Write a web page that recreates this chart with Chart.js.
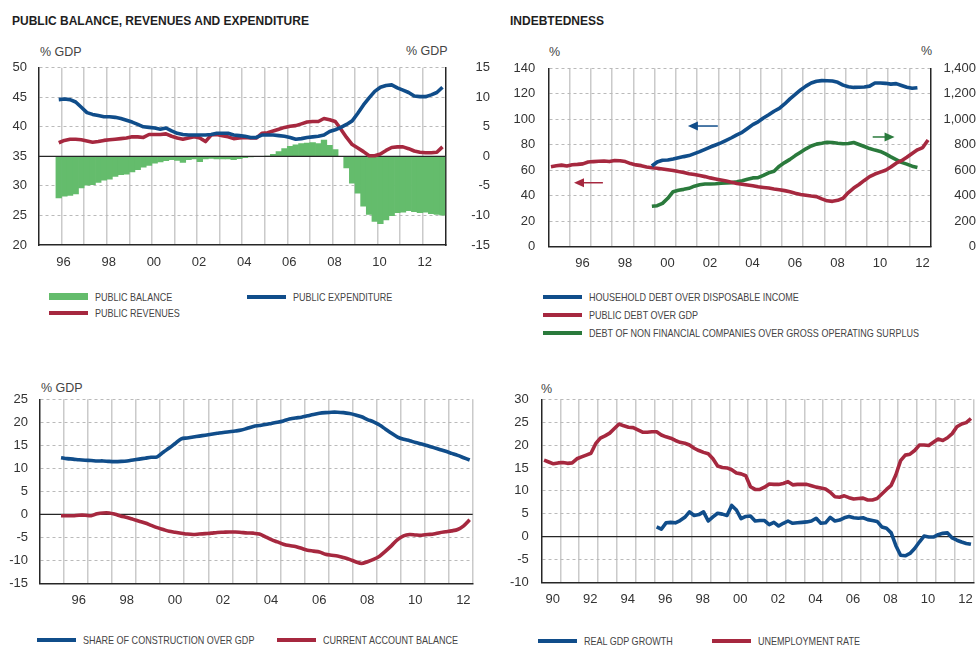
<!DOCTYPE html>
<html>
<head>
<meta charset="utf-8">
<script src="https://cdn.jsdelivr.net/npm/chart.js@4.4.0/dist/chart.umd.min.js"></script>
<style>
  body { margin: 0; width: 976px; height: 646px; background: #fff; position: relative; overflow: hidden;
         font-family: 'Liberation Sans', Arial, sans-serif; }
  canvas { position: absolute; }
  .title { position: absolute; font-weight: bold; font-size: 12px; line-height: 14px; color: #1e1e1e; white-space: nowrap; }
  .unit { position: absolute; font-size: 12.5px; line-height: 14px; color: #444; white-space: nowrap; }
  .leg { position: absolute; font-size: 11px; line-height: 14px; color: #444; white-space: nowrap;
         transform: scaleX(0.82); transform-origin: 0 0; }
  .sw { position: absolute; width: 39px; }
</style>
</head>
<body>
<div class="title" style="left:12px;top:14px;">PUBLIC BALANCE, REVENUES AND EXPENDITURE</div>
<div class="title" style="left:510px;top:14px;">INDEBTEDNESS</div>
<div class="unit" style="left:40px;top:45px;">% GDP</div>
<div class="unit" style="left:406px;top:44px;">% GDP</div>
<div class="unit" style="left:549px;top:45px;">%</div>
<div class="unit" style="left:921px;top:44px;">%</div>
<div class="unit" style="left:41px;top:381px;">% GDP</div>
<div class="unit" style="left:541px;top:382px;">%</div>

<canvas id="c1" width="490" height="220" style="left:0;top:55px;"></canvas>
<canvas id="c2" width="486" height="220" style="left:490px;top:55px;"></canvas>
<canvas id="c3" width="490" height="234" style="left:0;top:388px;"></canvas>
<canvas id="c4" width="486" height="234" style="left:490px;top:388px;"></canvas>

<script>
// ---- data (quarterly) ----
// panel 1: Q4 1995 .. Q4 2012
const fiscalStart = 1995.875;
const publicBalance = [
  -7.1, -6.8, -6.65, -6.4, -5.4, -4.95, -4.85, -4.45, -4.1, -3.9,
  -3.45, -3.15, -3.05, -2.7, -2.3, -1.9, -1.6, -1.2, -1.0, -0.8,
  -0.6, -0.75, -1.1, -0.6, -0.5, -0.95, -0.5, -0.4, -0.5, -0.5,
  -0.5, -0.6, -0.45, -0.3, -0.15, -0.1, -0.05, 0.1, 0.4, 0.85,
  1.35, 1.75, 2.0, 2.2, 2.3, 2.4, 2.2, 2.8, 1.9, 1.2,
  -0.1, -2.0, -4.6, -6.3, -8.5, -9.9, -11.05, -11.45, -10.8, -10.1,
  -9.6, -9.5, -9.25, -9.4, -9.6, -9.5, -9.75, -9.9, -10.0
];
const publicExpenditure = [
  44.6, 44.7, 44.6, 44.2, 43.3, 42.4, 42.1, 41.9, 41.7, 41.7,
  41.6, 41.4, 41.1, 40.8, 40.4, 40.0, 39.9, 39.8, 39.6, 39.8,
  39.3, 38.9, 38.7, 38.6, 38.6, 38.6, 38.6, 38.7, 38.9, 38.9,
  38.9, 38.6, 38.5, 38.4, 38.2, 38.2, 38.6, 38.6, 38.6, 38.5,
  38.4, 38.2, 37.9, 38.0, 38.2, 38.3, 38.4, 38.6, 39.2, 39.5,
  39.9, 40.4, 41.0, 42.3, 43.7, 44.9, 46.0, 46.7, 47.0, 47.1,
  46.6, 46.2, 45.8, 45.2, 45.1, 45.1, 45.4, 45.8, 46.7
];
const publicRevenues = [
  37.3, 37.7, 37.9, 37.9, 37.8, 37.6, 37.4, 37.5, 37.7, 37.8,
  37.9, 38.0, 38.1, 38.3, 38.3, 38.2, 38.7, 38.7, 38.7, 38.8,
  38.4, 38.1, 37.9, 38.1, 38.3, 38.1, 37.5, 38.6, 38.7, 38.5,
  38.3, 38.0, 38.1, 38.2, 38.1, 38.1, 38.9, 39.0, 39.3, 39.6,
  39.9, 40.1, 40.2, 40.5, 40.8, 40.9, 40.9, 41.4, 41.2, 40.9,
  39.6, 38.2, 37.0, 36.4, 35.8, 35.1, 35.1, 35.4, 36.0, 36.5,
  36.6, 36.6, 36.3, 35.9, 35.7, 35.6, 35.6, 35.7, 36.6
];

// panel 2: public debt Q1 1995 .. Q4 2012, private series Q4 1999 .. Q2 2012
const publicDebtStart = 1995.125;
const publicDebt = [
  62.8, 63.5, 64.0, 63.4, 64.3, 64.6, 65.0, 66.5, 66.8, 67.0,
  67.2, 66.8, 67.6, 67.5, 66.8, 65.2, 64.2, 63.6, 62.6, 62.0,
  61.6, 61.0, 60.4, 59.8, 59.0, 58.3, 57.3, 56.6, 55.8, 55.0,
  54.0, 53.2, 52.4, 51.5, 50.6, 49.6, 49.0, 48.4, 47.8, 47.0,
  46.5, 46.0, 45.3, 44.7, 44.0, 43.2, 42.0, 41.0, 40.4, 39.8,
  39.3, 37.5, 36.0, 35.6, 36.4, 38.0, 42.5, 46.0, 48.8, 52.0,
  55.0, 57.0, 58.5, 60.0, 62.5, 65.5, 67.5, 70.2, 73.2, 76.0,
  77.8, 83.7
];
const privateStart = 1999.875;
const householdDebt = [
  63.3, 66.5, 67.8, 68.0, 68.8, 69.8, 70.7, 71.5, 73.0, 74.6,
  76.4, 78.2, 79.8, 81.5, 83.5, 85.5, 87.8, 89.8, 92.8, 95.8,
  98.0, 101.0, 103.5, 106.3, 108.5, 112.0, 116.0, 119.5, 123.0, 126.0,
  128.5, 129.8, 130.3, 130.2, 130.0, 129.0, 126.8, 125.5, 125.0, 125.1,
  125.3, 126.0, 128.5, 128.5, 128.2, 127.6, 128.0, 126.5, 125.1, 124.3,
  124.8
];
const companyDebt = [
  318, 322, 340, 380, 432, 443, 450, 458, 475, 486,
  492, 492, 494, 498, 500, 503, 510, 518, 530, 540,
  542, 560, 580, 592, 632, 660, 685, 715, 742, 768,
  790, 805, 812, 820, 818, 812, 808, 810, 818, 802,
  786, 770, 758, 748, 728, 705, 684, 662, 648, 632,
  622
];

// panel 3: Q4 1995 .. Q4 2012
const externalStart = 1995.875;
const constructionShare = [
  12.3, 12.1, 12.0, 11.85, 11.75, 11.7, 11.6, 11.6, 11.5, 11.45,
  11.5, 11.6, 11.8, 12.0, 12.2, 12.4, 12.5, 13.5, 14.4, 15.4,
  16.4, 16.6, 16.8, 17.0, 17.2, 17.4, 17.6, 17.8, 17.95, 18.1,
  18.3, 18.7, 19.1, 19.3, 19.5, 19.75, 20.0, 20.3, 20.7, 20.95,
  21.1, 21.4, 21.7, 21.95, 22.1, 22.2, 22.2, 22.1, 21.9, 21.6,
  21.2, 20.6, 20.1, 19.4, 18.5, 17.6, 16.8, 16.3, 16.0, 15.6,
  15.3, 14.9, 14.5, 14.1, 13.7, 13.25, 12.8, 12.3, 11.8
];
const currentAccount = [
  -0.3, -0.3, -0.3, -0.2, -0.2, -0.3, 0.1, 0.3, 0.3, 0.0,
  -0.4, -0.7, -1.1, -1.5, -1.9, -2.4, -2.9, -3.3, -3.7, -3.9,
  -4.1, -4.3, -4.4, -4.3, -4.2, -4.1, -3.95, -3.9, -3.85, -3.85,
  -3.95, -4.05, -4.1, -4.3, -4.9, -5.5, -6.0, -6.5, -6.8, -7.0,
  -7.4, -7.8, -8.0, -8.2, -8.7, -8.9, -9.05, -9.4, -9.8, -10.3,
  -10.7, -10.3, -9.8, -9.1, -8.0, -6.8, -5.5, -4.7, -4.4, -4.5,
  -4.55, -4.4, -4.3, -4.0, -3.8, -3.6, -3.3, -2.5, -1.2
];

// panel 4: unemployment Q1 1990 .. Q4 2012, GDP growth Q1 1996 .. Q4 2012
const unemploymentStart = 1990.125;
const unemploymentRate = [
  16.7, 16.3, 15.9, 16.1, 16.2, 16.0, 16.1, 17.0, 17.4, 17.8,
  18.2, 20.3, 21.5, 22.0, 22.6, 23.6, 24.6, 24.2, 23.9, 23.8,
  23.3, 22.8, 22.8, 22.9, 22.9, 22.2, 21.8, 21.5, 21.0, 20.6,
  20.4, 20.0, 19.3, 18.8, 18.4, 18.1, 17.0, 15.4, 15.1, 15.0,
  14.6, 13.9, 13.7, 13.3, 10.9, 10.3, 10.3, 10.8, 11.5, 11.4,
  11.4, 11.6, 12.0, 11.3, 11.4, 11.4, 11.4, 11.1, 10.8, 10.6,
  10.4, 9.7, 8.7, 8.6, 8.9, 8.5, 8.2, 8.3, 8.4, 8.0,
  8.0, 8.3, 9.3, 10.3, 11.2, 13.5, 16.6, 17.8, 18.0, 18.8,
  20.0, 20.0, 19.9, 20.6, 21.3, 21.0, 21.6, 22.5, 24.0, 24.6,
  24.9, 25.8
];
const gdpStart = 1996.125;
const realGdpGrowth = [
  2.1, 1.6, 3.0, 3.1, 3.0, 3.5, 4.2, 5.4, 4.6, 4.8,
  5.4, 3.4, 4.3, 5.1, 4.9, 4.6, 6.8, 5.8, 3.9, 4.4,
  4.5, 3.4, 3.5, 3.5, 2.6, 3.1, 2.3, 2.9, 3.4, 2.9,
  3.0, 3.1, 3.2, 3.4, 4.0, 2.9, 3.0, 4.2, 3.4, 3.6,
  4.1, 4.4, 4.1, 4.0, 4.1, 3.7, 3.5, 3.3, 2.1, 1.8,
  0.8, -2.0, -4.1, -4.2, -3.7, -2.6, -1.2, 0.1, -0.1, -0.1,
  0.4, 0.7, 0.8, -0.3, -0.8, -1.2, -1.5, -1.7
];

// ---- styling ----
const BLUE = '#104d8a';
const RED = '#a6283f';
const GREEN_BAR = '#64bc6c';
const GREEN = '#2a7a3c';
const GRID_V = '#cacaca';
const GRID_H = '#bababa';
const AXIS = '#262626';
const TXT = '#333';
const tickFont = { family: "'Liberation Sans', Arial, sans-serif", size: 13 };
const CLEAR = 'rgba(0,0,0,0)';

const quarterly = (start, vals) => vals.map((v, i) => ({ x: start + i * 0.25, y: v }));

function lineSet(label, color, start, vals, extra) {
  return Object.assign({
    type: 'line', label, data: quarterly(start, vals), borderColor: color, backgroundColor: color,
    borderWidth: 3.6, pointRadius: 0, tension: 0, borderJoinStyle: 'round', order: 1, yAxisID: 'y'
  }, extra || {});
}

function xScale(min, max, height, labelOffset, padding, hideMax) {
  return {
    type: 'linear', min, max, offset: false,
    afterFit: s => { s.height = height; s.paddingLeft = 0; s.paddingRight = 0; },
    grid: {
      color: c => (c.tick && (c.tick.value === min || (hideMax && c.tick.value === max))) ? CLEAR : GRID_V,
      lineWidth: 1.5, drawTicks: false, offset: false
    },
    border: { display: true, color: AXIS, width: 1.5 },
    ticks: {
      stepSize: 1, autoSkip: false, maxRotation: 0, minRotation: 0, padding, labelOffset,
      color: TXT, font: tickFont,
      callback: v => { const y = Math.round(v); return y % 2 === 0 && y < max ? String(y % 100).padStart(2, '0') : ''; }
    }
  };
}

function yScale(position, min, max, stepSize, width, padding, withGrid, fmt) {
  return {
    type: 'linear', position, min, max,
    afterFit: s => { s.width = width; s.paddingTop = 0; s.paddingBottom = 0; },
    grid: withGrid
      ? { color: c => (c.tick && c.tick.value === min) ? CLEAR : GRID_H, lineWidth: 1, drawTicks: false }
      : { display: false, drawTicks: false },
    border: { display: true, color: AXIS, width: 1.5, dash: [3, 3] },
    ticks: {
      stepSize, padding, color: TXT, font: tickFont,
      crossAlign: position === 'right' ? 'far' : 'near',
      callback: fmt || (v => String(v))
    }
  };
}

// black zero line, drawn right after the dataset given by afterIndex (or before all datasets)
const zeroLine = {
  id: 'zeroLine',
  draw(chart, o) {
    const { ctx, chartArea: a } = chart;
    const y = chart.scales[o.axis || 'y'].getPixelForValue(o.value);
    ctx.save();
    ctx.strokeStyle = AXIS;
    ctx.lineWidth = 1.2;
    ctx.beginPath();
    ctx.moveTo(a.left, y);
    ctx.lineTo(a.right, y);
    ctx.stroke();
    ctx.restore();
  },
  beforeDatasetsDraw(chart, args, o) {
    if (o.value !== undefined && o.afterIndex === undefined) this.draw(chart, o);
  },
  afterDatasetDraw(chart, args, o) {
    if (o.value !== undefined && o.afterIndex === args.index) this.draw(chart, o);
  }
};

// small annotation arrows (panel 2)
const arrows = {
  id: 'arrows',
  afterDatasetsDraw(chart, args, o) {
    const { ctx, scales } = chart;
    (o.items || []).forEach(a => {
      const y = scales.y.getPixelForValue(a.y);
      const x1 = scales.x.getPixelForValue(a.from);
      const x2 = scales.x.getPixelForValue(a.to);
      const dir = x2 > x1 ? 1 : -1;
      ctx.save();
      ctx.strokeStyle = a.color;
      ctx.fillStyle = a.color;
      ctx.lineWidth = 1.5;
      ctx.beginPath();
      ctx.moveTo(x1, y);
      ctx.lineTo(x2 - dir * 6, y);
      ctx.stroke();
      ctx.beginPath();
      ctx.moveTo(x2, y);
      ctx.lineTo(x2 - dir * 10, y - 4.5);
      ctx.lineTo(x2 - dir * 10, y + 4.5);
      ctx.closePath();
      ctx.fill();
      ctx.restore();
    });
  }
};

const baseOptions = (scales, plugins, padding) => ({
  responsive: false, animation: false, devicePixelRatio: 1,
  layout: { padding, autoPadding: false },
  plugins: Object.assign({ legend: { display: false }, tooltip: { enabled: false } }, plugins),
  scales
});

// ---- panel 1 ----
new Chart(document.getElementById('c1'), {
  type: 'line',
  data: {
    datasets: [
      {
        type: 'bar', label: 'PUBLIC BALANCE', data: quarterly(fiscalStart, publicBalance),
        backgroundColor: GREEN_BAR, borderWidth: 0, barPercentage: 1.12, categoryPercentage: 1,
        grouped: false, yAxisID: 'y1', order: 3
      },
      lineSet('PUBLIC EXPENDITURE', BLUE, fiscalStart, publicExpenditure),
      lineSet('PUBLIC REVENUES', RED, fiscalStart, publicRevenues)
    ]
  },
  options: baseOptions({
    x: xScale(1995, 2013, 30, 2, 10, true),
    y: yScale('left', 20, 50, 5, 39, 12, true),
    y1: yScale('right', -15, 15, 5, 44.7, 11, false)
  }, { zeroLine: { value: 35, afterIndex: 0 } }, { top: 12.7, left: 0, right: 0, bottom: 0 }),
  plugins: [zeroLine]
});

// ---- panel 2 ----
new Chart(document.getElementById('c2'), {
  type: 'line',
  data: {
    datasets: [
      lineSet('HOUSEHOLD DEBT OVER DISPOSABLE INCOME', BLUE, privateStart, householdDebt),
      lineSet('PUBLIC DEBT OVER GDP', RED, publicDebtStart, publicDebt),
      lineSet('DEBT OF NON FINANCIAL COMPANIES OVER GROSS OPERATING SURPLUS', GREEN, privateStart, companyDebt, { yAxisID: 'y1' })
    ]
  },
  options: baseOptions({
    x: xScale(1995, 2013, 28.3, 13, 9, true),
    y: yScale('left', 0, 140, 20, 58.3, 13, true),
    y1: yScale('right', 0, 1400, 200, 45.3, 12, false, v => v.toLocaleString('en-US'))
  }, {
    arrows: { items: [
      { from: 2002.98, to: 2001.57, y: 94.7, color: BLUE },
      { from: 1997.57, to: 1996.21, y: 50.2, color: RED },
      { from: 2010.27, to: 2011.3, y: 86.1, color: GREEN }
    ] }
  }, { top: 13.3, left: 0, right: 0, bottom: 0 }),
  plugins: [arrows]
});

// ---- panel 3 ----
new Chart(document.getElementById('c3'), {
  type: 'line',
  data: {
    datasets: [
      lineSet('SHARE OF CONSTRUCTION OVER GDP', BLUE, externalStart, constructionShare, { tension: 0.3 }),
      lineSet('CURRENT ACCOUNT BALANCE', RED, externalStart, currentAccount, { tension: 0.3 })
    ]
  },
  options: baseOptions({
    x: xScale(1995, 2013, 38.7, 14.7, 9, false),
    y: yScale('left', -15, 25, 5, 40, 12, true)
  }, { zeroLine: { value: 0 } }, { top: 11.3, left: 0, right: 17.3, bottom: 0 }),
  plugins: [zeroLine]
});

// ---- panel 4 ----
new Chart(document.getElementById('c4'), {
  type: 'line',
  data: {
    datasets: [
      lineSet('REAL GDP GROWTH', BLUE, gdpStart, realGdpGrowth),
      lineSet('UNEMPLOYMENT RATE', RED, unemploymentStart, unemploymentRate)
    ]
  },
  options: baseOptions({
    x: xScale(1990, 2013, 39.7, 11, 9, false),
    y: yScale('left', -10, 30, 5, 51.7, 13, true)
  }, { zeroLine: { value: 0 } }, { top: 11.3, left: 0, right: 2.7, bottom: 0 }),
  plugins: [zeroLine]
});

// ---- legends (html) ----
const legendItems = [
  { text: 'PUBLIC BALANCE', color: GREEN_BAR, x: 49, y: 296.5, h: 7 },
  { text: 'PUBLIC EXPENDITURE', color: BLUE, x: 247, y: 296.5 },
  { text: 'PUBLIC REVENUES', color: RED, x: 49, y: 312.7 },
  { text: 'HOUSEHOLD DEBT OVER DISPOSABLE INCOME', color: BLUE, x: 543, y: 296.7 },
  { text: 'PUBLIC DEBT OVER GDP', color: RED, x: 543, y: 315 },
  { text: 'DEBT OF NON FINANCIAL COMPANIES OVER GROSS OPERATING SURPLUS', color: GREEN, x: 543, y: 333.3 },
  { text: 'SHARE OF CONSTRUCTION OVER GDP', color: BLUE, x: 37, y: 639.5 },
  { text: 'CURRENT ACCOUNT BALANCE', color: RED, x: 276.5, y: 639.5 },
  { text: 'REAL GDP GROWTH', color: BLUE, x: 538, y: 640.5 },
  { text: 'UNEMPLOYMENT RATE', color: RED, x: 711.5, y: 640.5 }
];
legendItems.forEach(it => {
  const h = it.h || 4;
  const sw = document.createElement('div');
  sw.className = 'sw';
  sw.style.cssText = `left:${it.x}px;top:${it.y - h / 2}px;height:${h}px;background:${it.color};`;
  document.body.appendChild(sw);
  const t = document.createElement('div');
  t.className = 'leg';
  t.textContent = it.text;
  t.style.left = (it.x + 46) + 'px';
  t.style.top = (it.y - 7) + 'px';
  document.body.appendChild(t);
});
</script>
</body>
</html>
